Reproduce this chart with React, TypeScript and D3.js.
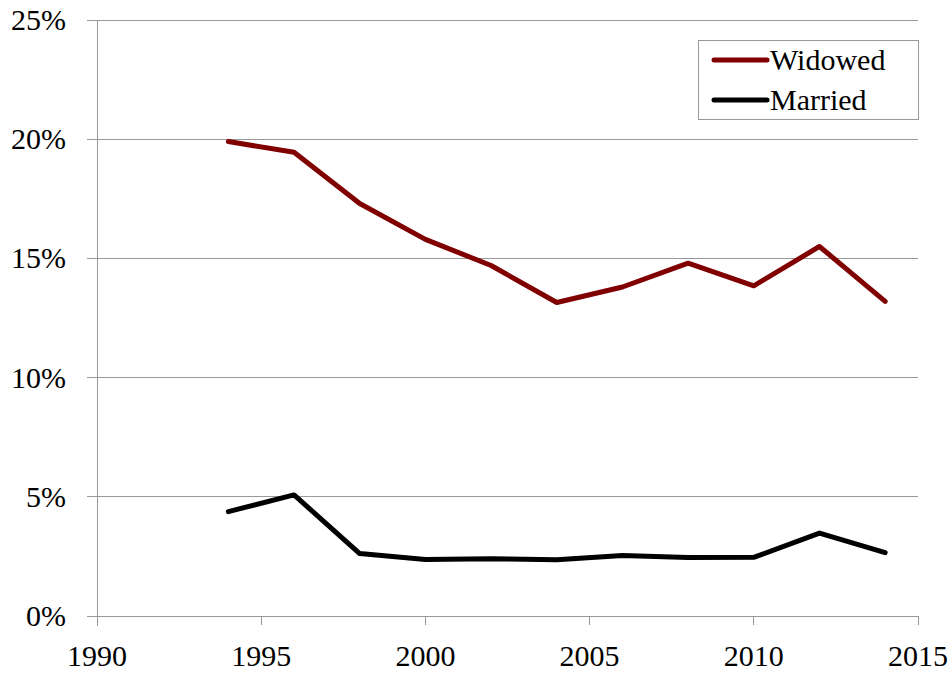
import * as d3 from "d3";

const WIDTH = 952;
const HEIGHT = 673;
const MARGIN = { top: 20, right: 34, bottom: 57, left: 97 };

const years = [1994, 1996, 1998, 2000, 2002, 2004, 2006, 2008, 2010, 2012, 2014];
const widowed = [19.9, 19.45, 17.3, 15.8, 14.7, 13.15, 13.8, 14.8, 13.85, 15.5, 13.2];
const married = [4.38, 5.08, 2.62, 2.37, 2.4, 2.36, 2.54, 2.45, 2.46, 3.48, 2.66];
const xTicks = [1990, 1995, 2000, 2005, 2010, 2015];
const yTicks = [0, 5, 10, 15, 20, 25];

const series = [
    { name: "Widowed", values: widowed, color: "#800000" },
    { name: "Married", values: married, color: "#000000" },
];

const labelStyle = { fontFamily: "Times", fontSize: 30 };

export default function App() {
    // bounds = area inside the axes
    const boundsWidth = WIDTH - MARGIN.left - MARGIN.right;
    const boundsHeight = HEIGHT - MARGIN.top - MARGIN.bottom;

    const xScale = d3.scaleLinear().domain([1990, 2015]).range([0, boundsWidth]);
    const yScale = d3.scaleLinear().domain([0, 25]).range([boundsHeight, 0]);

    const line = d3
        .line<number>()
        .x((_, i) => xScale(years[i]))
        .y((d) => yScale(d));

    return (
        <svg
            width={WIDTH}
            height={HEIGHT}
            style={{ position: "absolute", left: 0, top: 0, background: "#fff", fontFamily: "Times" }}
        >
            <g transform={`translate(${MARGIN.left},${MARGIN.top})`}>
                {yTicks.map((t) => (
                    <g key={t}>
                        <line
                            x1={-10}
                            x2={boundsWidth}
                            y1={yScale(t)}
                            y2={yScale(t)}
                            stroke="#999"
                            shapeRendering="crispEdges"
                        />
                        <text x={-31} y={yScale(t) + 10} textAnchor="end" style={labelStyle}>
                            {t + "%"}
                        </text>
                    </g>
                ))}
                <line x1={0} x2={0} y1={0} y2={boundsHeight + 10} stroke="#999" shapeRendering="crispEdges" />
                {xTicks.map((t) => (
                    <g key={t}>
                        <line
                            x1={xScale(t)}
                            x2={xScale(t)}
                            y1={boundsHeight}
                            y2={boundsHeight + 9}
                            stroke="#999"
                            shapeRendering="crispEdges"
                        />
                        <text x={xScale(t)} y={boundsHeight + 50} textAnchor="middle" style={labelStyle}>
                            {String(t)}
                        </text>
                    </g>
                ))}
                {series.map((s) => (
                    <path
                        key={s.name}
                        d={line(s.values) || ""}
                        fill="none"
                        stroke={s.color}
                        strokeWidth={5}
                        strokeLinejoin="round"
                        strokeLinecap="round"
                    />
                ))}
            </g>
            {/* legend */}
            <rect x={698.5} y={40.5} width={220} height={79} fill="#fff" stroke="#999" />
            {series.map((s, i) => (
                <g key={s.name}>
                    <line
                        x1={714}
                        x2={767}
                        y1={60 + i * 40}
                        y2={60 + i * 40}
                        stroke={s.color}
                        strokeWidth={5}
                        strokeLinecap="round"
                    />
                    <text x={770} y={70 + i * 40} style={labelStyle}>
                        {s.name}
                    </text>
                </g>
            ))}
        </svg>
    );
}
